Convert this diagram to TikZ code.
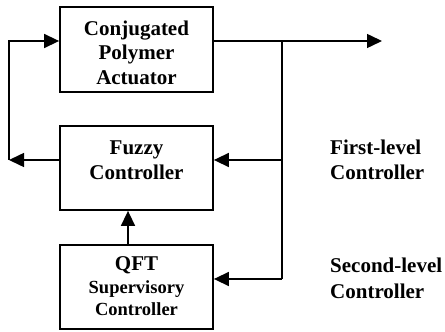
\documentclass[tikz,border=0pt]{standalone}
\usepackage{fontspec}
\setmainfont{Liberation Serif}
\usetikzlibrary{arrows.meta}
\begin{document}
\begin{tikzpicture}[x=1pt,y=1pt,
  blk/.style={draw, line width=1.8pt, minimum width=153pt, minimum height=84pt, inner sep=0pt},
  txt/.style={align=center, font=\fontsize{21}{24.5}\selectfont\bfseries, inner sep=0pt},
  smalltxt/.style={align=center, font=\fontsize{18.5}{22.5}\selectfont\bfseries, inner sep=0pt},
  lbl/.style={align=left, anchor=west, font=\fontsize{21}{25.5}\selectfont\bfseries, inner sep=0pt},
  conn/.style={line width=1.5pt},
  arr/.style={conn, -{Triangle[length=15pt, width=14pt]}}]
\useasboundingbox (0,0) rectangle (445,332);

% blocks
\node[blk, minimum height=85pt] (cpa) at (136.5,282.5) {};
\node[txt] (cpat) at (136.5,279.5) {Conjugated\\Polymer\\Actuator};
\node[blk] (fz) at (136.5,164) {};
\node[txt] (fzt) at (136.5,172) {Fuzzy\\Controller};
\node[blk] (qft) at (136.5,45) {};
\node[smalltxt] (qftt) at (136.5,45.5) {{\fontsize{21}{22.5}\selectfont QFT}\\Supervisory\\Controller};

% level labels
\node[lbl] (l1) at (330,172) {First-level\\Controller};
\node[lbl] (l2) at (330,53.5) {Second-level\\Controller};

% routing points
\coordinate (out) at (382,291);
\coordinate (br) at (282,291);
\coordinate (brlow) at (282,53);
\coordinate (lc) at (9,172);

% output and feedback branch
\draw[arr] (cpa.east |- br) -- (out);
\draw[conn] (br) -- (brlow);
\draw[arr] (282,172) -- (fz.east |- lc);
\draw[arr] (brlow) -- (qft.east |- brlow);

% fuzzy controller output to actuator
\draw[arr] (fz.west |- lc) -- (lc);
\draw[arr] (lc) |- (cpa.west |- br);

% supervisory link
\draw[arr] (qft.north -| 128,0) -- (fz.south -| 128,0);
\end{tikzpicture}
\end{document}
